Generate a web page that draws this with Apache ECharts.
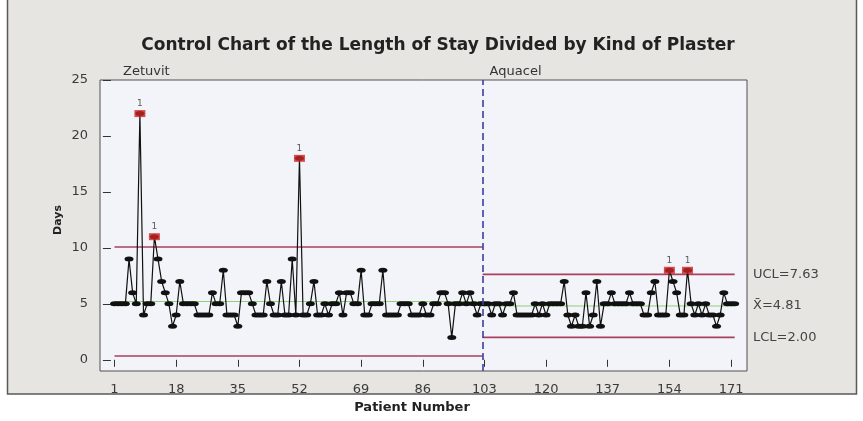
<!DOCTYPE html>
<html><head><meta charset="utf-8">
<script src="https://cdn.jsdelivr.net/npm/echarts@6/dist/echarts.min.js"></script>
<style>html,body{margin:0;padding:0;background:#ffffff}#c{width:863px;height:421px}</style>
</head><body><div id="c"></div>
<script>
// ---- data ----
const groupNames = ['Zetuvit', 'Aquacel'];
const zetuvitDays = [
  5,5,5,5,9,6,5,22,4,5, 5,11,9,7,6,5,3,4,7,5,
  5,5,5,4,4,4,4,6,5,5, 8,4,4,4,3,6,6,6,5,4,
  4,4,7,5,4,4,7,4,4,9, 4,18,4,4,5,7,4,4,5,4,
  5,5,6,4,6,6,5,5,8,4, 4,5,5,5,8,4,4,4,4,5,
  5,5,4,4,4,5,4,4,5,5, 6,6,5,2,5,5,6,5,6,5,
  4,5
];
const aquacelDays = [
  5,5,4,5,5,4,5,5,6,4, 4,4,4,4,5,4,5,4,5,5,
  5,5,7,4,3,4,3,3,6,3, 4,7,3,5,5,6,5,5,5,5,
  6,5,5,5,4,4,6,7,4,4, 4,8,7,6,4,4,8,5,4,5,
  4,5,4,4,3,4,6,5,5,5
];
// limits: [UCL, mean, LCL]
const zetuvitLimits = [10.08, 5.21, 0.34];
const aquacelLimits = [7.63, 4.81, 2.00];
const xTickLabels = [1, 18, 35, 52, 69, 86, 103, 120, 137, 154, 171];
const yTickLabels = [0, 5, 10, 15, 20, 25];
const limitNames = ['UCL', 'X\u0304', 'LCL'];

// ---- build ----
const allDays = zetuvitDays.concat(aquacelDays);
const points = allDays.map((v, k) => [k + 1, v]);
const split = zetuvitDays.length + 0.5;
const lastX = allDays.length;
const outPoints = points.filter(p => {
  const lim = p[0] <= zetuvitDays.length ? zetuvitLimits : aquacelLimits;
  return p[1] > lim[0] || p[1] < lim[2];
});

const limitColor = '#a8405e';
const meanColor = '#8fd07a';
const limitSeries = [];
[[1, split, zetuvitLimits], [split, lastX, aquacelLimits]].forEach(([a, b, lim]) => {
  lim.forEach((v, j) => {
    limitSeries.push({
      type: 'line', data: [[a, v], [b, v]], symbol: 'none', silent: true, z: 1,
      lineStyle: { color: j === 1 ? meanColor : limitColor, width: j === 1 ? 1 : 1.6 }
    });
  });
});

const font = 'DejaVu Sans';
const chart = echarts.init(document.getElementById('c'), null, { renderer: 'canvas' });
const option = {
  animation: false,
  backgroundColor: '#ffffff',
  grid: { left: 100, top: 80, width: 647, height: 291, show: true,
          backgroundColor: '#f3f4f9', borderColor: '#505050', borderWidth: 1 },
  xAxis: {
    type: 'value', min: -3, max: 175.4,
    axisLine: { show: false },
    splitLine: { show: false },
    axisTick: { show: true, length: 7, lineStyle: { color: '#333' }, customValues: xTickLabels },
    axisLabel: { customValues: xTickLabels, color: '#3a3a3a', fontFamily: font, fontSize: 13, margin: 12 }
  },
  yAxis: {
    type: 'value', min: -1, max: 25,
    axisLine: { show: false },
    splitLine: { show: false },
    axisTick: { show: true, length: 8, lineStyle: { color: '#333' }, customValues: yTickLabels },
    axisLabel: { customValues: yTickLabels, color: '#3a3a3a', fontFamily: font, fontSize: 13, margin: 12 }
  },
  series: limitSeries.concat([
    {
      type: 'line', data: points, z: 3,
      symbol: 'circle', symbolSize: [9, 5],
      itemStyle: { color: '#111' },
      lineStyle: { color: '#111', width: 1.2 },
      markLine: {
        silent: true, symbol: 'none', label: { show: false },
        lineStyle: { color: '#3b3fa0', type: [7, 4], width: 1.6 },
        data: [{ xAxis: split }]
      }
    },
    {
      type: 'scatter', data: outPoints, z: 5,
      symbol: 'rect', symbolSize: [11, 7],
      itemStyle: { color: '#cc2424' },
      label: { show: true, position: 'top', distance: 2, formatter: () => '1',
               color: '#333', fontFamily: font, fontSize: 9 }
    }
  ])
};
chart.setOption(option);

const g = [];
g.push({ type: 'rect', z: -10, shape: { x: 7.5, y: -2, width: 849, height: 396 },
         style: { fill: '#e7e5e1', stroke: '#5a5a5a', lineWidth: 1.5 } });
g.push({ type: 'text', x: 438, y: 46, style: { text: 'Control Chart of the Length of Stay Divided by Kind of Plaster',
         fill: '#222', font: 'bold 17px "DejaVu Sans"', textAlign: 'center', textVerticalAlign: 'middle' } });
g.push({ type: 'text', x: 123, y: 72, style: { text: groupNames[0], fill: '#333',
         font: '13px "DejaVu Sans"', textAlign: 'left', textVerticalAlign: 'middle' } });
const splitPx = chart.convertToPixel({ gridIndex: 0 }, [split, 0])[0];
g.push({ type: 'text', x: splitPx + 7, y: 72, style: { text: groupNames[1], fill: '#333',
         font: '13px "DejaVu Sans"', textAlign: 'left', textVerticalAlign: 'middle' } });
g.push({ type: 'text', x: 412, y: 408, style: { text: 'Patient Number', fill: '#222',
         font: 'bold 13px "DejaVu Sans"', textAlign: 'center', textVerticalAlign: 'middle' } });
g.push({ type: 'text', x: 58, y: 220, rotation: Math.PI / 2, style: { text: 'Days', fill: '#222',
         font: 'bold 11px "DejaVu Sans"', textAlign: 'center', textVerticalAlign: 'middle' } });
aquacelLimits.forEach((v, j) => {
  const py = chart.convertToPixel({ gridIndex: 0 }, [0, v])[1];
  g.push({ type: 'text', x: 753, y: py, style: { text: limitNames[j] + '=' + v.toFixed(2), fill: '#444',
           font: '13px "DejaVu Sans"', textAlign: 'left', textVerticalAlign: 'middle' } });
});
chart.setOption({ graphic: g });
</script></body></html>
